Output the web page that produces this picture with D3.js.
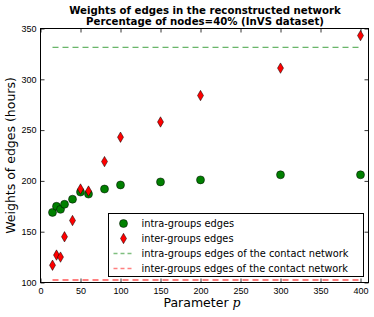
<!DOCTYPE html>
<html>
<head>
<meta charset="utf-8">
<script src="https://cdn.jsdelivr.net/npm/d3@7"></script>
<style>
  body { margin: 0; background: #fff; }
  svg { display: block; font-family: "DejaVu Sans", sans-serif; }
  .tick text { font-size: 9px; fill: #000; }
</style>
</head>
<body>
<svg width="374" height="317"></svg>
<script>
// values
const params = [15, 20, 25, 30, 40, 50, 60, 80, 100, 150, 200, 300, 400]
const intraWeights = [169, 175, 172, 177, 182, 189, 187, 192, 196, 199, 201, 206, 206]
const interWeights = [117, 127, 125, 145, 161, 192, 190, 219, 243, 258, 284, 311, 343]
// weights of the contact network (constant lines)
const intraContact = 331.5
const interContact = 102.5
const xTicks = [0, 50, 100, 150, 200, 250, 300, 350, 400]
const yTicks = [100, 150, 200, 250, 300, 350]
const legendLabels = ['intra-groups edges', 'inter-groups edges',
  'intra-groups edges of the contact network', 'inter-groups edges of the contact network']

const svg = d3.select('svg')
const plotLeft = 40.5, plotRight = 368.5, plotTop = 28.5, plotBottom = 282.5

const x = d3.scaleLinear().domain([0, 410]).range([plotLeft, plotRight])
const y = d3.scaleLinear().domain([100, 350]).range([plotBottom, plotTop])

// inward ticks on all four sides, like classic matplotlib
const tickLen = 4
svg.append('g')
  .attr('transform', `translate(0, ${plotBottom})`)
  .call(d3.axisBottom(x).tickValues(xTicks).tickSize(-tickLen).tickPadding(5).tickFormat(d3.format('d')))
svg.append('g')
  .attr('transform', `translate(0, ${plotTop})`)
  .call(d3.axisTop(x).tickValues(xTicks).tickSize(-tickLen).tickFormat(''))
svg.append('g')
  .attr('transform', `translate(${plotLeft}, 0)`)
  .call(d3.axisLeft(y).tickValues(yTicks).tickSize(-tickLen).tickPadding(4).tickFormat(d3.format('d')))
svg.append('g')
  .attr('transform', `translate(${plotRight}, 0)`)
  .call(d3.axisRight(y).tickValues(yTicks).tickSize(-tickLen).tickFormat(''))
svg.selectAll('.domain').remove()
svg.selectAll('.tick line').attr('stroke', '#000').attr('stroke-width', 0.8)

// contact network lines
const contactLines = [
  { value: intraContact, color: 'rgba(0,128,0,0.75)' },
  { value: interContact, color: 'rgba(255,0,0,0.5)' }
]
svg.selectAll('line.contact')
  .data(contactLines)
  .enter()
  .append('line')
  .attr('class', 'contact')
  .attr('x1', x(params[0]))
  .attr('x2', x(params[params.length - 1]))
  .attr('y1', d => y(d.value))
  .attr('y2', d => y(d.value))
  .attr('stroke', d => d.color)
  .attr('stroke-width', (d, i) => i === 0 ? 1 : 2)
  .attr('stroke-dasharray', '6,4')

const diamond = 'M0,-5.2 L3,0 L0,5.2 L-3,0 Z'

// intra-groups points
svg.selectAll('circle.intra')
  .data(params)
  .enter()
  .append('circle')
  .attr('class', 'intra')
  .attr('cx', d => x(d))
  .attr('cy', (d, i) => y(intraWeights[i]))
  .attr('r', 4)
  .attr('fill', '#008000')
  .attr('stroke', '#000')
  .attr('stroke-width', 0.5)

// inter-groups points
svg.selectAll('path.inter')
  .data(params)
  .enter()
  .append('path')
  .attr('class', 'inter')
  .attr('d', diamond)
  .attr('transform', (d, i) => `translate(${x(d)}, ${y(interWeights[i])})`)
  .attr('fill', '#ff0000')
  .attr('stroke', '#000')
  .attr('stroke-width', 0.5)

// frame
svg.append('rect')
  .attr('x', plotLeft).attr('y', plotTop)
  .attr('width', plotRight - plotLeft).attr('height', plotBottom - plotTop)
  .attr('fill', 'none').attr('stroke', '#000').attr('stroke-width', 1)

// legend
const legend = svg.append('g').attr('transform', 'translate(108.5, 213.5)')
legend.append('rect')
  .attr('width', 255).attr('height', 63)
  .attr('fill', '#fff').attr('stroke', '#000').attr('stroke-width', 1)
const rows = legend.selectAll('g.row')
  .data(legendLabels)
  .enter()
  .append('g')
  .attr('class', 'row')
  .attr('transform', (d, i) => `translate(0, ${10 + i * 15})`)
rows.append('text')
  .attr('x', 33)
  .attr('dy', '0.35em')
  .style('font-size', '9.8px')
  .text(d => d)
rows.filter((d, i) => i === 0).append('circle')
  .attr('cx', 15).attr('r', 4)
  .attr('fill', '#008000').attr('stroke', '#000').attr('stroke-width', 0.5)
rows.filter((d, i) => i === 1).append('path')
  .attr('d', diamond).attr('transform', 'translate(15, 0)')
  .attr('fill', '#ff0000').attr('stroke', '#000').attr('stroke-width', 0.5)
rows.filter((d, i) => i >= 2).append('line')
  .attr('x1', 5).attr('x2', 26)
  .attr('stroke', (d, i) => i === 0 ? 'rgba(0,128,0,0.5)' : 'rgba(255,0,0,0.5)')
  .attr('stroke-width', 1.5)
  .attr('stroke-dasharray', '4,3')

// titles
const title = svg.append('text')
  .attr('text-anchor', 'middle')
  .style('font-size', '10.2px')
  .style('font-weight', 'bold')
title.append('tspan').attr('x', 205).attr('y', 14).text('Weights of edges in the reconstructed network')
title.append('tspan').attr('x', 205).attr('y', 25).text('Percentage of nodes=40% (InVS dataset)')

svg.append('text')
  .attr('transform', `translate(15, ${(plotTop + plotBottom) / 2}) rotate(-90)`)
  .attr('text-anchor', 'middle')
  .style('font-size', '12.5px')
  .text('Weights of edges (hours)')

const xLabel = svg.append('text')
  .attr('x', 202)
  .attr('y', 307)
  .attr('text-anchor', 'middle')
  .style('font-size', '12.5px')
xLabel.append('tspan').text('Parameter ')
xLabel.append('tspan')
  .style('font-family', '"DejaVu Serif", serif')
  .style('font-style', 'italic')
  .text('p')
</script>
</body>
</html>
